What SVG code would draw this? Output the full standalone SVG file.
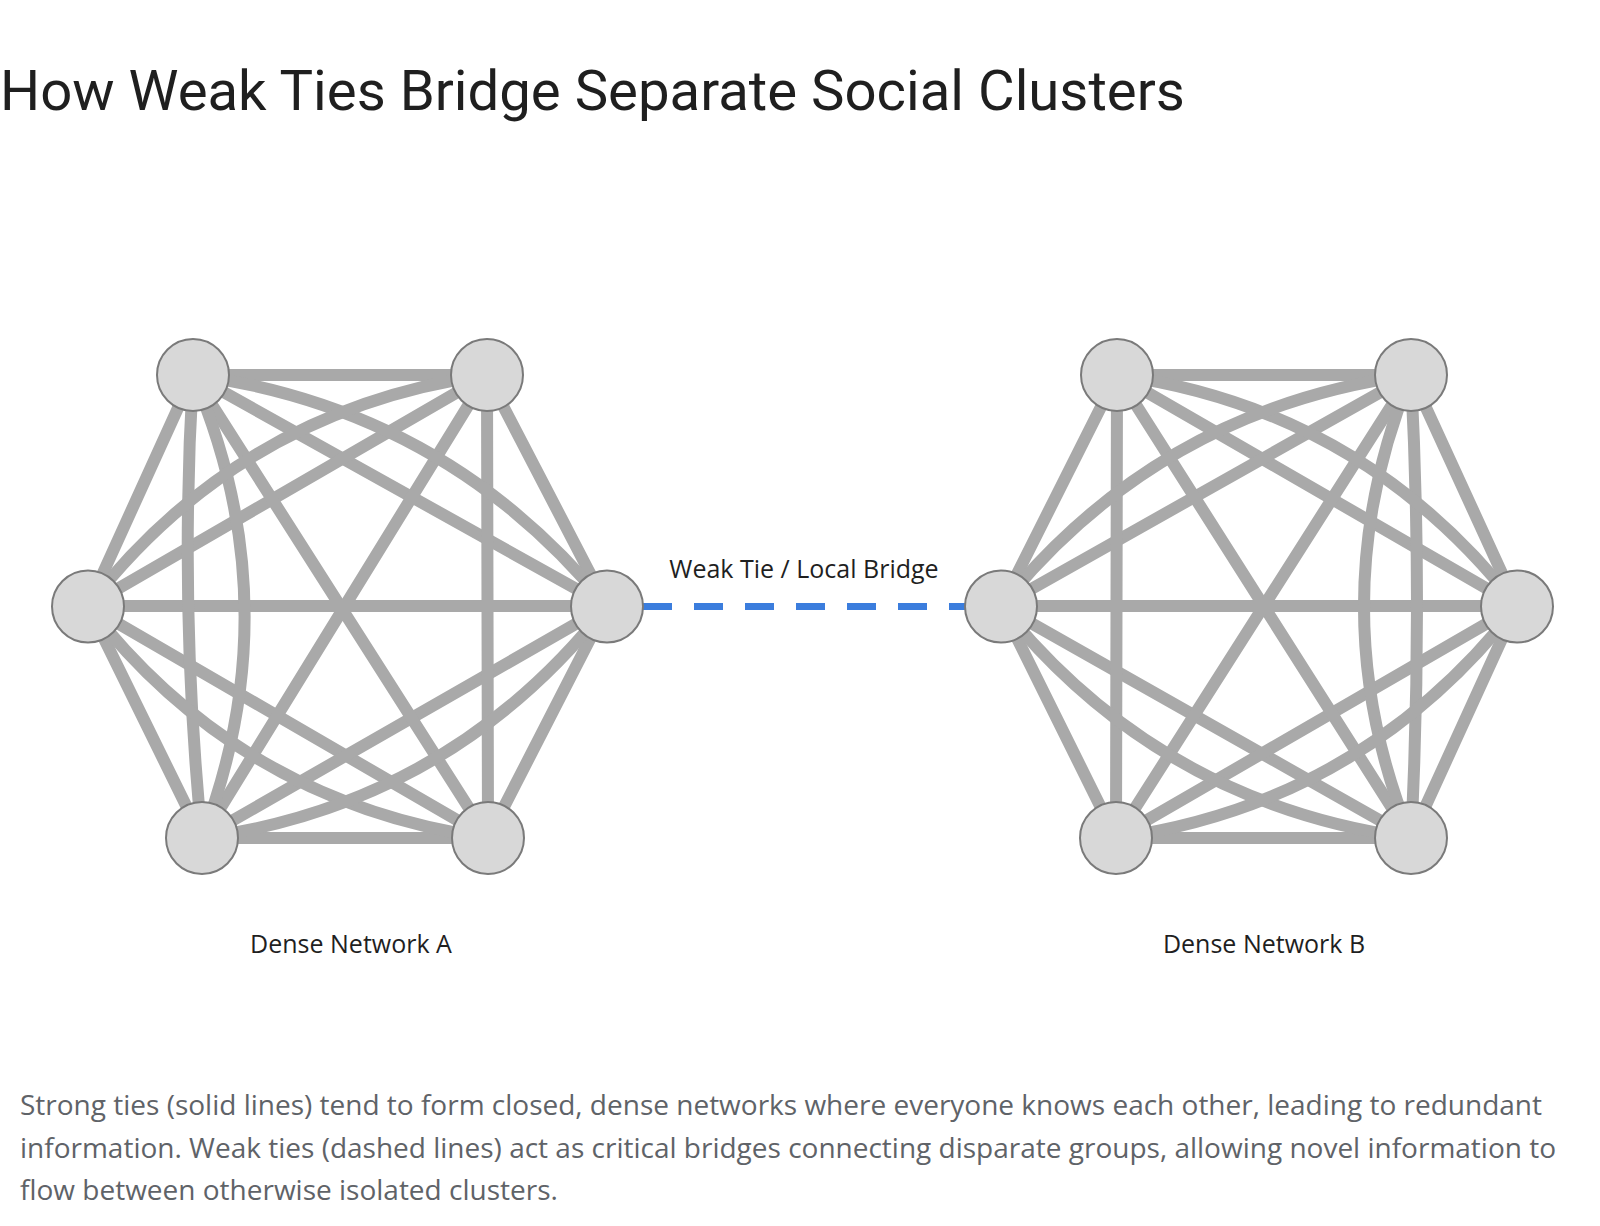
<svg xmlns="http://www.w3.org/2000/svg" width="1600" height="1226" viewBox="0 0 1600 1226">
<style>
.e{fill:none;stroke:#a9a9a9;stroke-width:12;stroke-linecap:round}
.n{fill:#d8d8d8;stroke:#7a7a7a;stroke-width:2}
.bridge{fill:none;stroke:#3b7ddd;stroke-width:7;stroke-dasharray:29 22}
.t{font-family:Roboto,"Noto Sans",sans-serif}
.s{font-family:"Open Sans","Noto Sans",sans-serif}
</style>
<rect width="1600" height="1226" fill="#ffffff"/>
<text class="t" x="0" y="110" font-size="56.3" fill="#1f1f1f">How Weak Ties Bridge Separate Social Clusters</text>
<g id="connectors">
<g id="edges-a">
<path class="e" d="M193,375L487,375"/>
<path class="e" d="M487,375L607,606"/>
<path class="e" d="M607,606L488,838"/>
<path class="e" d="M488,838L202,838"/>
<path class="e" d="M202,838L88,606"/>
<path class="e" d="M88,606L193,375"/>
<path class="e" d="M193,375L607,606"/>
<path class="e" d="M487,375L88,606"/>
<path class="e" d="M88,606L488,838"/>
<path class="e" d="M202,838L607,606"/>
<path class="e" d="M487,375L488,838"/>
<path class="e" d="M193,375L488,838"/>
<path class="e" d="M487,375L202,838"/>
<path class="e" d="M88,606L607,606"/>
<path class="e" d="M193,375Q179,607 202,838"/>
<path class="e" d="M193,375Q291.5,604.7 202,838"/>
<path class="e" d="M193,375Q445.8,408.4 607,606"/>
<path class="e" d="M487,375Q240.4,409.1 88,606"/>
<path class="e" d="M88,606Q240.8,803.3 488,838"/>
<path class="e" d="M202,838Q451.2,803.6 607,606"/>
</g>
<g id="edges-b">
<path class="e" d="M1117,375L1411,375"/>
<path class="e" d="M1411,375L1517,606"/>
<path class="e" d="M1517,606L1411,838"/>
<path class="e" d="M1411,838L1116,838"/>
<path class="e" d="M1116,838L1001,606"/>
<path class="e" d="M1001,606L1117,375"/>
<path class="e" d="M1117,375L1517,606"/>
<path class="e" d="M1411,375L1001,606"/>
<path class="e" d="M1001,606L1411,838"/>
<path class="e" d="M1116,838L1517,606"/>
<path class="e" d="M1117,375L1116,838"/>
<path class="e" d="M1117,375L1411,838"/>
<path class="e" d="M1411,375L1116,838"/>
<path class="e" d="M1001,606L1517,606"/>
<path class="e" d="M1411,375Q1423,606.5 1411,838"/>
<path class="e" d="M1411,375Q1317,606.5 1411,838"/>
<path class="e" d="M1117,375Q1364,409.1 1517,606"/>
<path class="e" d="M1411,375Q1159.8,408.6 1001,606"/>
<path class="e" d="M1001,606Q1159.7,803.8 1411,838"/>
<path class="e" d="M1116,838Q1363.6,803.4 1517,606"/>
</g>
<line id="weak-tie" class="bridge" x1="643" y1="606.5" x2="980" y2="606.5"/>
</g>
<g id="cluster-a">
<g id="a-tl"><circle class="n" cx="193" cy="375" r="36"/></g>
<g id="a-tr"><circle class="n" cx="487" cy="375" r="36"/></g>
<g id="a-l"><circle class="n" cx="88" cy="606.5" r="36"/></g>
<g id="a-r"><circle class="n" cx="607" cy="606.5" r="36"/></g>
<g id="a-bl"><circle class="n" cx="202" cy="838" r="36"/></g>
<g id="a-br"><circle class="n" cx="488" cy="838" r="36"/></g>
</g>
<g id="cluster-b">
<g id="b-tl"><circle class="n" cx="1117" cy="375" r="36"/></g>
<g id="b-tr"><circle class="n" cx="1411" cy="375" r="36"/></g>
<g id="b-l"><circle class="n" cx="1001" cy="606.5" r="36"/></g>
<g id="b-r"><circle class="n" cx="1517" cy="606.5" r="36"/></g>
<g id="b-bl"><circle class="n" cx="1116" cy="838" r="36"/></g>
<g id="b-br"><circle class="n" cx="1411" cy="838" r="36"/></g>
</g>
<text class="s" x="804" y="578" font-size="25" fill="#1f1f1f" text-anchor="middle">Weak Tie / Local Bridge</text>
<text class="s" x="351" y="953" font-size="25" fill="#1f1f1f" text-anchor="middle">Dense Network A</text>
<text class="s" x="1264" y="953" font-size="25" fill="#1f1f1f" text-anchor="middle">Dense Network B</text>
<g class="s" font-size="28" fill="#5f6368">
<text x="20" y="1115">Strong ties (solid lines) tend to form closed, dense networks where everyone knows each other, leading to redundant</text>
<text x="20" y="1158">information. Weak ties (dashed lines) act as critical bridges connecting disparate groups, allowing novel information to</text>
<text x="20" y="1200">flow between otherwise isolated clusters.</text>
</g>
</svg>
